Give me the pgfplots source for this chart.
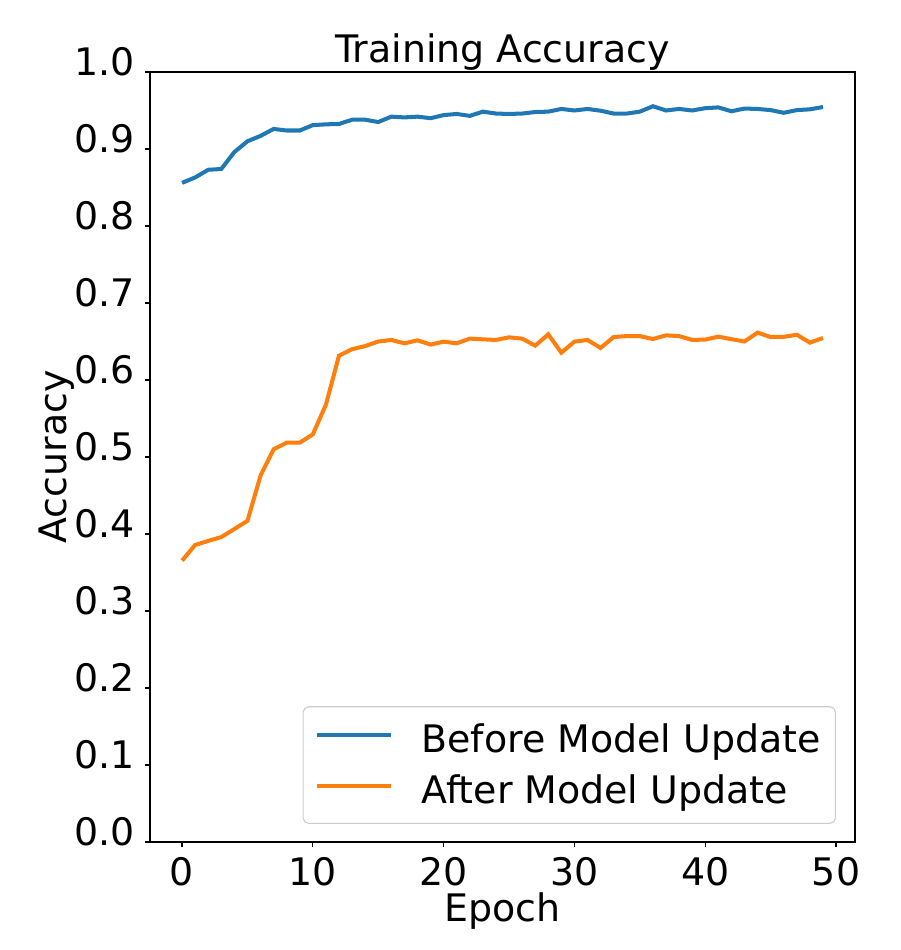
\documentclass[border=0pt]{standalone}
\usepackage{fontspec}
\setmainfont{DejaVu Sans}
\usepackage{pgfplots}
\pgfplotsset{compat=1.18}
\definecolor{tabblue}{HTML}{1F77B4}
\definecolor{taborange}{HTML}{FF7F0E}
\begin{document}
\begin{tikzpicture}[font=\fontsize{27.3}{33}\selectfont]
\begin{axis}[
  scale only axis,
  width=507.6pt, height=554.4pt,
  xmin=-2.45, xmax=51.45, ymin=0, ymax=1,
  xtick={0,10,20,30,40,50},
  ytick={0,0.1,0.2,0.3,0.4,0.5,0.6,0.7,0.8,0.9,1.0},
  /pgf/number format/assume math mode=true,
  yticklabel style={/pgf/number format/fixed, /pgf/number format/fixed zerofill, /pgf/number format/precision=1, anchor=mid east, inner sep=0pt, xshift=-7.2pt},
  xticklabel style={anchor=base, inner sep=0pt, yshift=-27.4pt},
  scaled y ticks=false,
  tick align=outside,
  major tick length=3.6pt,
  every tick/.style={black, line width=0.8pt},
  xtick pos=bottom, ytick pos=left,
  axis line style={line width=0.8pt},
  title={Training Accuracy},
  title style={at={(axis description cs:0.5,1.0010)}, anchor=base, inner sep=0pt},
  xlabel={Epoch},
  xlabel style={at={(axis description cs:0.5,-0.1037)}, anchor=base, inner sep=0pt},
  ylabel={Accuracy},
  ylabel style={at={(axis description cs:-0.1182,0.5)}, anchor=base, inner sep=0pt, rotate=0},
  legend cell align=left,
  legend image code/.code={\draw[#1] (0pt,3pt) -- (53pt,3pt);},
  legend style={at={(axis description cs:1,0)}, anchor=south east, xshift=-13.7pt, yshift=13pt,
    draw=black!20, line width=0.8pt, rounded corners=4pt, fill=white, fill opacity=0.8, text opacity=1,
    inner xsep=8.5pt, inner ysep=10.5pt, row sep=10.5pt,
    /tikz/every odd column/.append style={column sep=18.9pt}},
]
\addplot[tabblue, line width=2.9pt] coordinates {
(0,0.856) (1,0.863) (2,0.873) (3,0.874) (4,0.896) (5,0.910) (6,0.917) (7,0.926) (8,0.924) (9,0.924)
(10,0.931) (11,0.932) (12,0.9325) (13,0.938) (14,0.938) (15,0.935) (16,0.942) (17,0.941) (18,0.942) (19,0.940)
(20,0.944) (21,0.9455) (22,0.943) (23,0.9485) (24,0.946) (25,0.9455) (26,0.946) (27,0.948) (28,0.9485) (29,0.952)
(30,0.950) (31,0.952) (32,0.9497) (33,0.946) (34,0.946) (35,0.9485) (36,0.9555) (37,0.950) (38,0.952) (39,0.950)
(40,0.953) (41,0.954) (42,0.949) (43,0.9525) (44,0.952) (45,0.9505) (46,0.947) (47,0.9505) (48,0.9515) (49,0.9545)
};
\addlegendentry{Before Model Update}
\addplot[taborange, line width=2.9pt] coordinates {
(0,0.3654) (1,0.3857) (2,0.391) (3,0.396) (4,0.4065) (5,0.417) (6,0.4757) (7,0.510) (8,0.5186) (9,0.5186)
(10,0.5294) (11,0.568) (12,0.6316) (13,0.640) (14,0.644) (15,0.650) (16,0.652) (17,0.6476) (18,0.6515) (19,0.646)
(20,0.6498) (21,0.6476) (22,0.6537) (23,0.6528) (24,0.652) (25,0.6554) (26,0.6537) (27,0.6446) (28,0.6593) (29,0.6355)
(30,0.6498) (31,0.652) (32,0.6416) (33,0.6558) (34,0.657) (35,0.657) (36,0.6532) (37,0.658) (38,0.657) (39,0.652)
(40,0.6525) (41,0.6563) (42,0.653) (43,0.650) (44,0.6615) (45,0.6558) (46,0.656) (47,0.6588) (48,0.6485) (49,0.6545)
};
\addlegendentry{After Model Update}
\end{axis}
\pgfresetboundingbox
\path (-108pt,-77.76pt) rectangle (540pt,606.24pt);
\end{tikzpicture}
\end{document}
